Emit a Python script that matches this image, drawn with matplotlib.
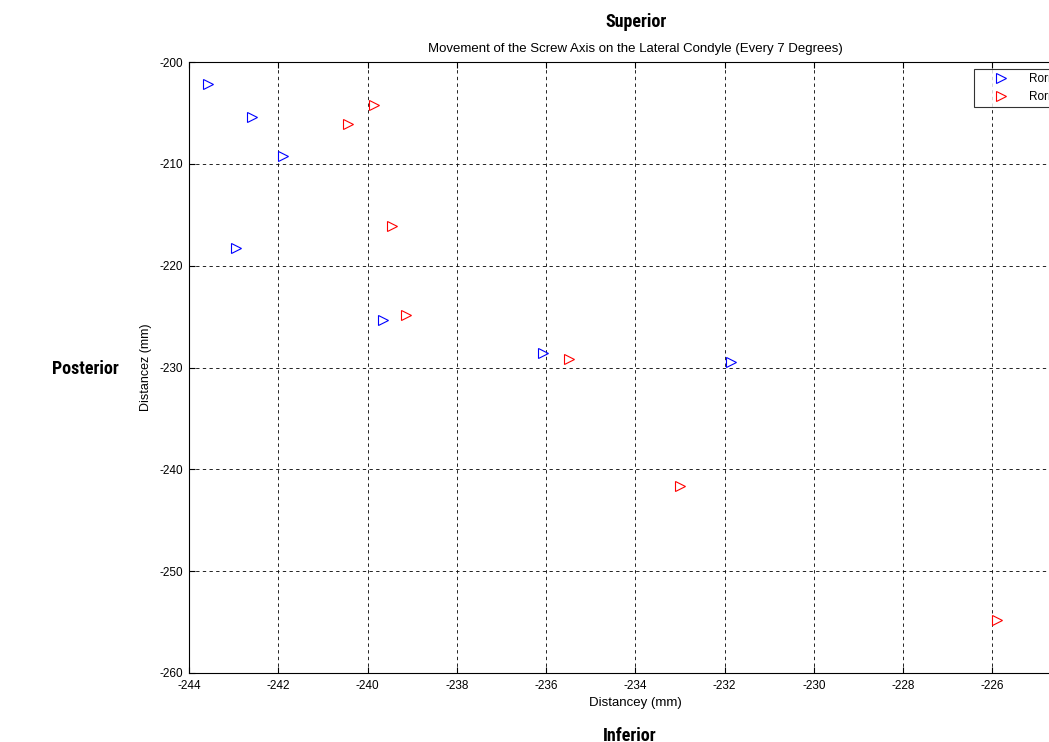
import matplotlib.pyplot as plt

# screw axis positions (mm)
blue_y = [-243.57, -242.59, -241.89, -242.95, -239.66, -236.07, -231.86]
blue_z = [-202.16, -205.40, -209.23, -218.27, -225.34, -228.59, -229.47]
red_y = [-239.86, -240.44, -239.45, -239.14, -235.49, -233.00, -225.90]
red_z = [-204.22, -206.09, -216.11, -224.85, -229.17, -241.65, -254.81]

xticks = list(range(-244, -223, 2))
yticks = list(range(-260, -199, 10))

plt.rcParams['font.family'] = ['Liberation Sans', 'DejaVu Sans']
plt.rcParams['axes.unicode_minus'] = False

fig = plt.figure(figsize=(10.49, 7.42), dpi=100)
ax = fig.add_axes([0.1802, 0.093, 0.851, 0.8234])

ax.plot(blue_y, blue_z, linestyle='none', marker='>', markersize=6.5,
        markerfacecolor='none', markeredgecolor='blue', markeredgewidth=0.8, label='Rorn 1')
ax.plot(red_y, red_z, linestyle='none', marker='>', markersize=6.5,
        markerfacecolor='none', markeredgecolor='red', markeredgewidth=0.8, label='Rorn 2')

ax.set_xlim(-244, -224)
ax.set_ylim(-260, -200)
ax.set_xticks(xticks)
ax.set_yticks(yticks)
ax.tick_params(direction='in', top=True, right=True, labelsize=8.5, length=4)
ax.tick_params(axis='x', pad=5)
ax.tick_params(axis='y', pad=4)
ax.grid(True, color='black', linestyle=(0, (4, 4)), linewidth=0.6)
ax.set_axisbelow(True)

ax.set_title('Movement of the Screw Axis on the Lateral Condyle (Every 7 Degrees)', fontsize=9.5, pad=7)
ax.set_xlabel('Distancey (mm)', fontsize=9.5, labelpad=4)
ax.set_ylabel('Distancez (mm)', fontsize=9, labelpad=6)

leg = ax.legend(loc='upper left', bbox_to_anchor=(0.879, 0.989), fontsize=8.5,
                frameon=True, fancybox=False, borderaxespad=0, borderpad=0.35,
                handlelength=4.0, handletextpad=0.3, labelspacing=0.5)
leg.get_frame().set_edgecolor('black')
leg.get_frame().set_linewidth(0.8)

# narrow bold face for the orientation labels
narrow = ['Liberation Sans Narrow', 'Roboto Condensed', 'DejaVu Sans']
side_font = dict(family=narrow, fontweight='bold', fontstretch='condensed', fontsize=13)
fig.text(636 / 1049, 1 - 22 / 742, 'Superior', ha='center', va='center', **side_font)
fig.text(85 / 1049, 1 - 369 / 742, 'Posterior', ha='center', va='center', **side_font)
fig.text(630 / 1049, 1 - 736 / 742, 'Inferior', ha='center', va='center', **side_font)

fig.savefig('out.png', dpi=100)
